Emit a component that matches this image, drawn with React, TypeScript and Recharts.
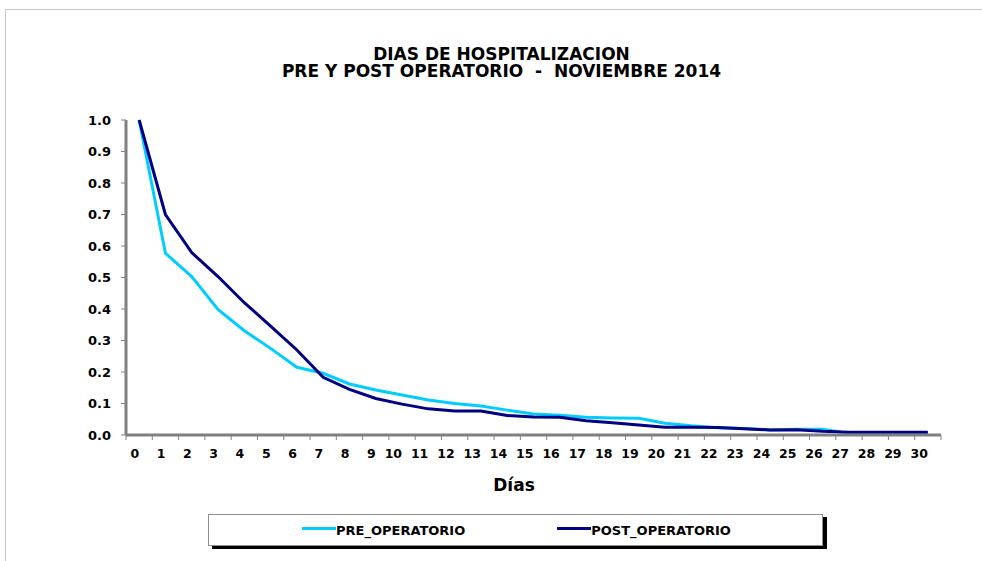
import { Legend, Line, LineChart, XAxis, YAxis } from "recharts";

const dias = ["0","1","2","3","4","5","6","7","8","9","10","11","12","13","14","15","16","17","18","19","20","21","22","23","24","25","26","27","28","29","30"];
const preOperatorio = [1.0, 0.577, 0.503, 0.399, 0.331, 0.275, 0.215, 0.196, 0.162, 0.143, 0.127, 0.111, 0.1, 0.092, 0.079, 0.067, 0.063, 0.056, 0.054, 0.053, 0.037, 0.029, 0.023, 0.021, 0.016, 0.018, 0.018, 0.005, 0.005, 0.005, 0.005];
const postOperatorio = [1.0, 0.7, 0.579, 0.503, 0.42, 0.346, 0.27, 0.183, 0.145, 0.116, 0.098, 0.083, 0.076, 0.076, 0.062, 0.057, 0.056, 0.045, 0.039, 0.032, 0.025, 0.025, 0.024, 0.02, 0.016, 0.017, 0.012, 0.009, 0.009, 0.009, 0.009];
const yTicks = [0, 0.1, 0.2, 0.3, 0.4, 0.5, 0.6, 0.7, 0.8, 0.9, 1.0];
const seriesOrder = ["PRE_OPERATORIO", "POST_OPERATORIO"];

const data = dias.map((dia, i) => ({
  dia,
  PRE_OPERATORIO: preOperatorio[i],
  POST_OPERATORIO: postOperatorio[i],
}));

const FONT = "'DejaVu Sans', Verdana, sans-serif";
const GRAY = "#808080";

function DiaTick(props: any) {
  const { x, y, payload, index } = props;
  const half = payload?.offset ?? 815 / 31 / 2;
  const last = index === dias.length - 1;
  return (
    <g>
      <line x1={x - half} x2={x - half} y1={y} y2={y + 5} stroke={GRAY} strokeWidth={1} />
      {last && <line x1={x + half} x2={x + half} y1={y} y2={y + 5} stroke={GRAY} strokeWidth={1} />}
      <text x={x} y={y + 23} textAnchor="end" fontFamily={FONT} fontWeight="bold" fontSize={12.5} fill="#000">
        {payload.value}
      </text>
    </g>
  );
}

function LegendBox(props: any) {
  const items = [...(props.payload || [])].sort(
    (a: any, b: any) => seriesOrder.indexOf(a.value) - seriesOrder.indexOf(b.value)
  );
  return (
    <div
      style={{
        width: 613,
        height: 30,
        border: "1px solid #909090",
        boxShadow: "4px 3px 0 #000",
        background: "#fff",
        display: "flex",
        alignItems: "center",
        fontFamily: FONT,
        fontWeight: "bold",
        fontSize: 13,
        color: "#000",
        boxSizing: "content-box",
      }}
    >
      {items.map((it: any, i: number) => (
        <div key={it.value} style={{ display: "flex", alignItems: "center", marginLeft: i === 0 ? 93 : 92 }}>
          <span style={{ display: "inline-block", width: 34, height: 3, background: it.color, marginTop: -4 }} />
          <span>{it.value}</span>
        </div>
      ))}
    </div>
  );
}

export default function App() {
  return (
    <div style={{ position: "absolute", left: 0, top: 0, width: 982, height: 561, overflow: "hidden", background: "#fff" }}>
      <div style={{ position: "absolute", left: 5, top: 9, width: 1100, height: 700, border: "1px solid #c8c8c8" }} />
      <div
        style={{
          position: "absolute",
          left: 0,
          top: 46,
          width: 1003,
          textAlign: "center",
          fontFamily: FONT,
          fontWeight: "bold",
          fontSize: 17,
          lineHeight: "17px",
          color: "#000",
          whiteSpace: "pre",
        }}
      >
        {"DIAS DE HOSPITALIZACION\nPRE Y POST OPERATORIO  -  NOVIEMBRE 2014"}
      </div>
      <div
        style={{
          position: "absolute",
          left: 414,
          top: 477,
          width: 200,
          textAlign: "center",
          fontFamily: FONT,
          fontWeight: "bold",
          fontSize: 17,
          lineHeight: "17px",
          color: "#000",
        }}
      >
        Días
      </div>
      <div style={{ position: "absolute", left: 0, top: 0 }}>
        <LineChart width={982} height={561} data={data} margin={{ top: 120, right: 41, bottom: 64, left: 66 }}>
          <XAxis
            dataKey="dia"
            scale="band"
            interval={0}
            tickSize={0}
            tickMargin={0}
            tickLine={false}
            axisLine={{ stroke: GRAY, strokeWidth: 3 }}
            tick={<DiaTick />}
            height={30}
          />
          <XAxis
            xAxisId="top"
            dataKey="dia"
            scale="band"
            orientation="top"
            height={0}
            tick={false}
            tickLine={false}
            axisLine={{ stroke: GRAY, strokeWidth: 3 }}
          />
          <YAxis
            domain={[0, 1]}
            ticks={yTicks}
            interval={0}
            width={60}
            tickSize={5}
            tickMargin={10}
            tickLine={{ stroke: GRAY }}
            axisLine={{ stroke: GRAY, strokeWidth: 3 }}
            tickFormatter={(v: number) => v.toFixed(1)}
            tick={{ fill: "#000", fontFamily: FONT, fontWeight: "bold", fontSize: 13 }}
          />
          <YAxis
            yAxisId="right"
            orientation="right"
            domain={[0, 1]}
            width={0}
            tick={false}
            tickLine={false}
            axisLine={{ stroke: GRAY, strokeWidth: 3 }}
          />
          <Legend
            content={<LegendBox />}
            wrapperStyle={{ position: "absolute", left: 208, top: 514, width: "auto" }}
          />
          <Line
            type="linear"
            dataKey="PRE_OPERATORIO"
            stroke="#00CCFF"
            strokeWidth={3}
            dot={false}
            isAnimationActive={false}
          />
          <Line
            type="linear"
            dataKey="POST_OPERATORIO"
            stroke="#000080"
            strokeWidth={3}
            dot={false}
            isAnimationActive={false}
          />
        </LineChart>
      </div>
    </div>
  );
}
